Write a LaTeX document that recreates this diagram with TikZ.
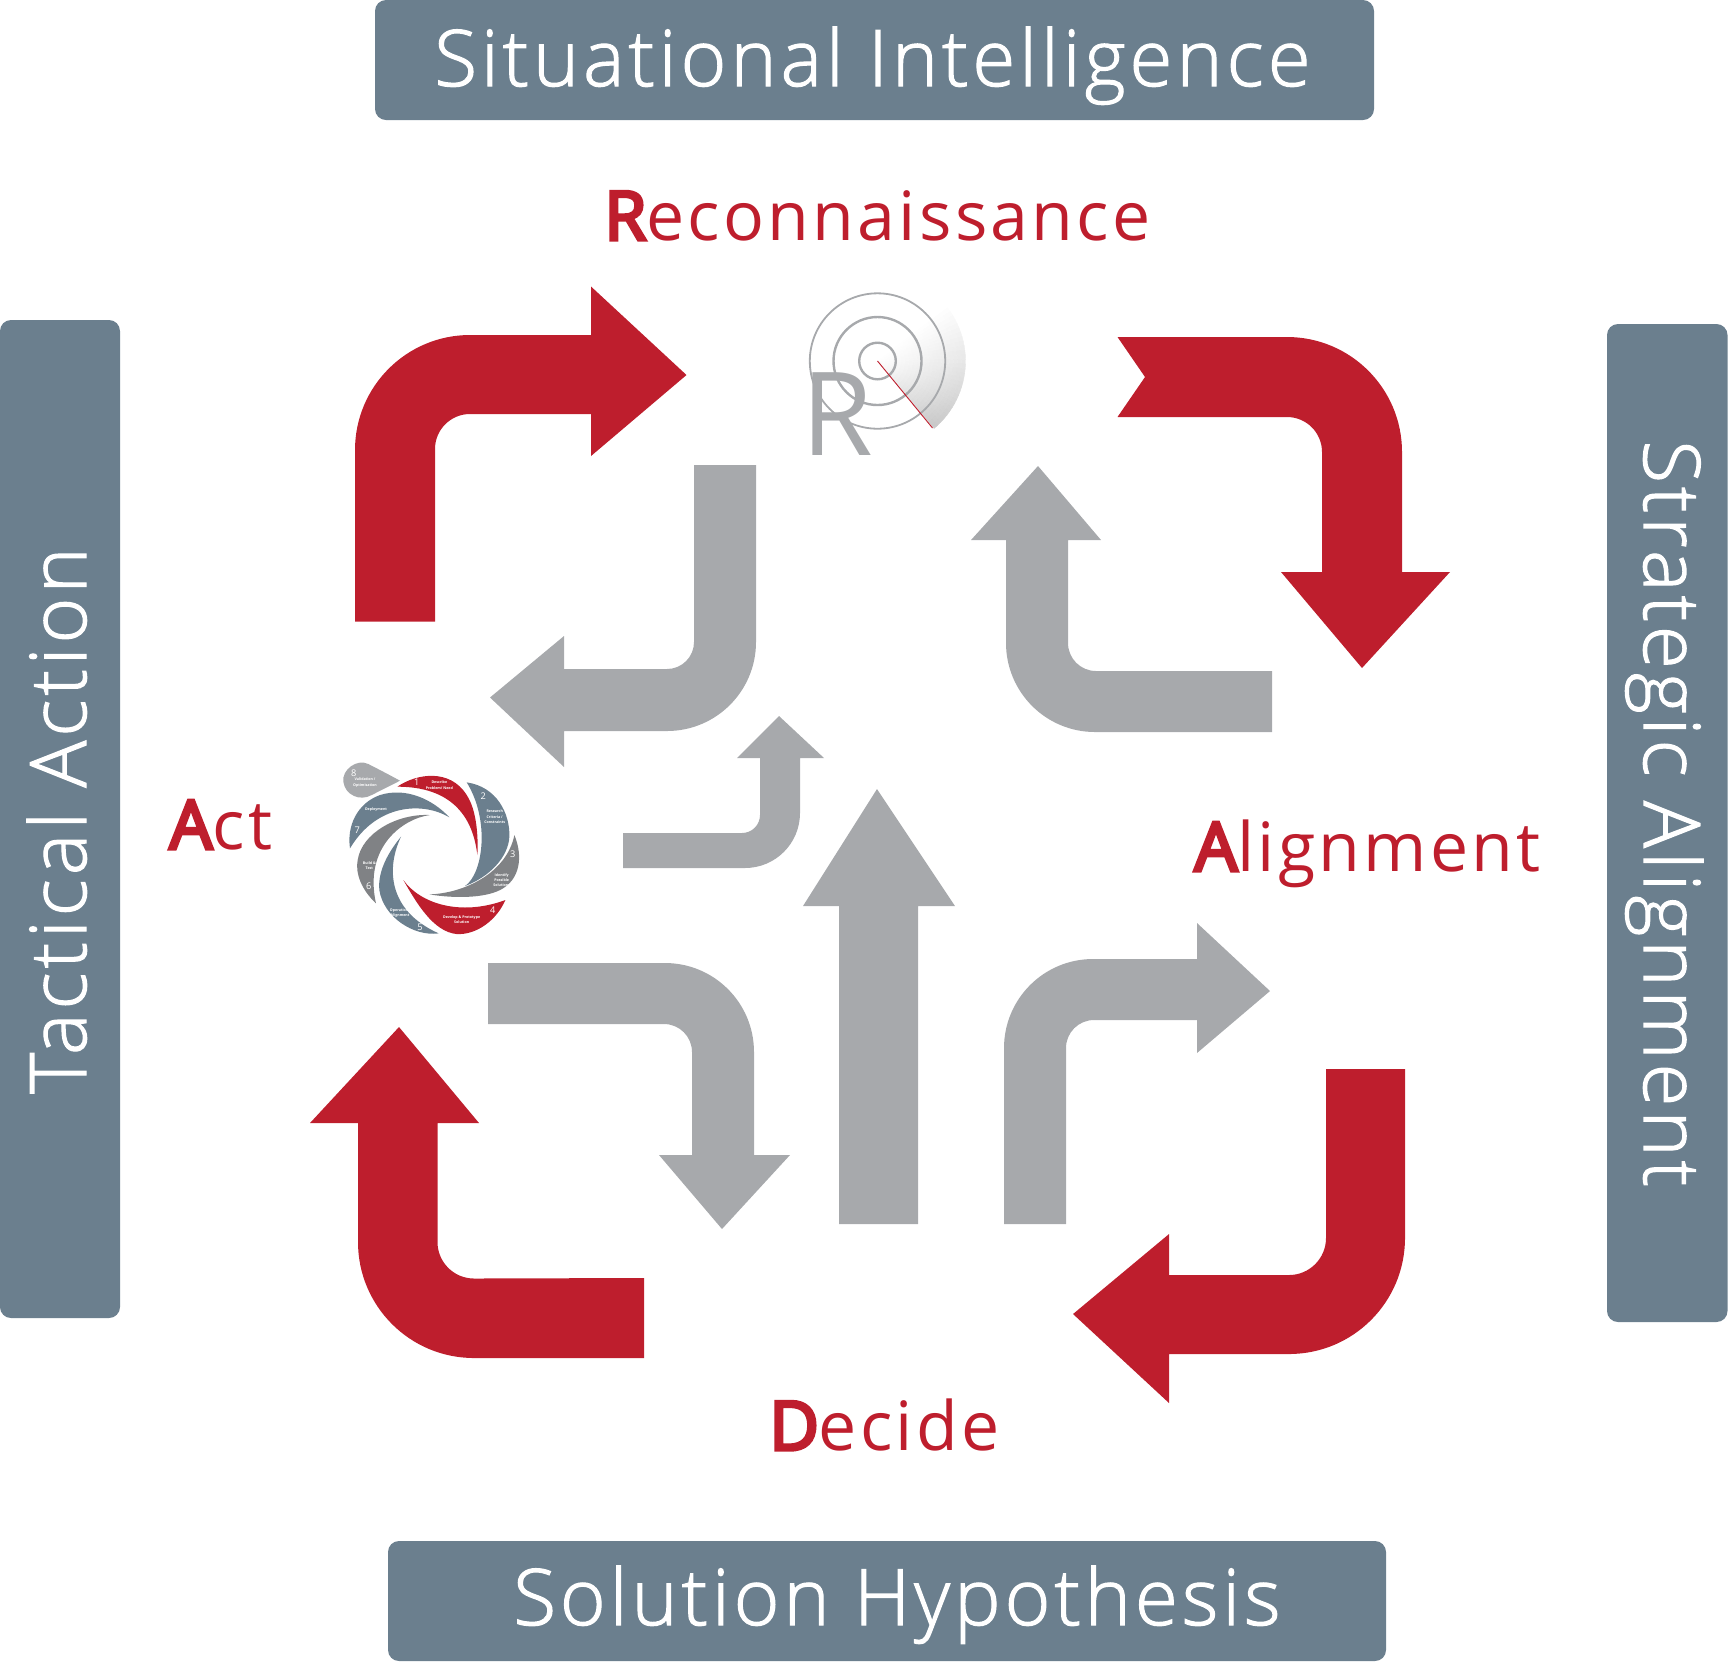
\documentclass[tikz,border=0pt]{standalone}
\usepackage{fontspec}
\setmainfont{Open Sans}
\newfontfamily\lightf[LetterSpace=5.3,FakeBold=1.5]{Open Sans Light}
\newfontfamily\redf[LetterSpace=4.8]{Open Sans}
\newfontfamily\redbf[LetterSpace=4.8,FakeBold=5]{Open Sans}
\newfontfamily\tinyf{Open Sans}
\definecolor{rd}{HTML}{BE1E2D}
\definecolor{gy}{HTML}{A7A9AC}
\definecolor{sl}{HTML}{6B7F8E}
\definecolor{dg}{HTML}{808285}
\tikzset{
  banner/.style={fill=sl,rounded corners=5.5pt},
  big/.style={text=white,inner sep=0pt,font=\lightf\fontsize{39}{39}\selectfont,anchor=base west},
  redlab/.style={text=rd,inner sep=0pt,font=\redf\fontsize{34}{34}\selectfont,anchor=base west},
  redarrow/.style={fill=rd},
  grayarrow/.style={fill=gy},
  tinylab/.style={text=white,inner sep=0pt,align=center,font=\tinyf\bfseries\fontsize{1.8}{2.7}\selectfont},
  numlab/.style={text=white,inner sep=0pt,font=\fontsize{4.6}{5}\selectfont},
}
\begin{document}
\begin{tikzpicture}[x=.5pt,y=-.5pt]
\useasboundingbox (0,0) rectangle (1728,1662);
% banners
\fill[banner] (375,0) rectangle (1374,120);
\fill[banner] (388,1541) rectangle (1386,1661);
\fill[banner] (0,320) rectangle (120,1318);
\fill[banner] (1607,324) rectangle (1727.5,1322);
\node[big] (top) at (434,86) {Situational Intelligence};
\node[big] (bot) at (513,1625) {Solution Hypothesis};
\node[big,rotate=90] (lft) at (86,1094) {Tactical Action};
\node[big,rotate=-90] (rgt) at (1644,440) {Strategic Alignment};
% red labels
\node[redlab] (recon) at (604,240) {{\redbf R}econnaissance};
\node[redlab] (act) at (169,849) {{\redbf A}ct};
\node[redlab] (align) at (1194,871) {{\redbf A}lignment};
\node[redlab] (decide) at (769,1450) {{\redbf D}ecide};
% red arrows
\fill[redarrow] (355,621.5) -- (355,450) arc(180:270:115) -- (591,335) -- (591,286.5) -- (686.5,375) -- (591,456) -- (591,414) -- (470,414) arc(270:180:35) -- (435,621.5) -- cycle;
\fill[redarrow] (1117.5,337) -- (1287,337) arc(270:360:115) -- (1402,572) -- (1450,572) -- (1362,668) -- (1281,572) -- (1322,572) -- (1322,452) arc(0:-90:35) -- (1117.5,417) -- (1145,377) -- cycle;
\fill[redarrow] (1405,1069) -- (1405,1238) arc(0:90:116) -- (1169,1354) -- (1169,1403) -- (1073,1314) -- (1169,1234) -- (1169,1275) -- (1289,1275) arc(90:0:37) -- (1326,1069) -- cycle;
\fill[redarrow] (644,1358) -- (474,1358) arc(90:180:116) -- (358,1123) -- (310,1123) -- (399,1027) -- (479,1123) -- (437.5,1123) -- (437.5,1242) arc(180:90:36.5) -- (644,1278) -- cycle;
% gray arrows
\fill[grayarrow] (756,465) -- (756,642) arc(0:90:89) -- (564,731) -- (564,767) -- (490,697.5) -- (564,636) -- (564,669) -- (667,669) arc(90:0:27) -- (694,465) -- cycle;
\fill[grayarrow] (1272,732) -- (1095,732) arc(90:180:89) -- (1006,540) -- (971,540) -- (1038,466) -- (1101,540) -- (1068,540) -- (1068,643) arc(180:90:28) -- (1272,671) -- cycle;
\fill[grayarrow] (488,963) -- (665,963) arc(270:360:89) -- (754,1155) -- (790,1155) -- (722,1229) -- (659,1155) -- (692,1155) -- (692,1052) arc(0:-90:28) -- (488,1024) -- cycle;
\fill[grayarrow] (1004,1224) -- (1004,1048) arc(180:270:89) -- (1197,959) -- (1197,923) -- (1270,991) -- (1197,1053) -- (1197,1020) -- (1094,1020) arc(270:180:28) -- (1066,1224) -- cycle;
\fill[grayarrow] (623,868) -- (745,868) arc(90:0:55) -- (800,758) -- (824,758) -- (779,716) -- (737,758) -- (760,758) -- (760,815) arc(0:90:18) -- (623,833) -- cycle;
\fill[grayarrow] (839,1224) -- (839,906) -- (803,906) -- (877,789) -- (955,906) -- (918,906) -- (918,1224) -- cycle;
% radar
\begin{scope}[shift={(877.5,361)}]
\foreach \r in {4,8,...,88}{
  \foreach \a in {-40,-37,...,48}{
    \pgfmathsetmacro\k{max(0,22*(\r/88)*((\a+40)/90))}
    \fill[black!\k!white,draw=black!\k!white,line width=.2pt] (\a:\r-4) arc(\a:\a+3:\r-4) -- (\a+3:\r) arc(\a+3:\a:\r) -- cycle;
  }
}
\draw[gy,line width=.9pt] (0,0) circle (67.7);
\draw[gy,line width=1.2pt] (0,0) circle (44);
\draw[gy,line width=1.2pt] (0,0) circle (18.3);
\node[text=gy,inner sep=0pt,anchor=base west,font=\fontsize{58}{58}\selectfont] (rlet) at (-76,94) {R};
\draw[rd,line width=.45pt] (0,0) -- (55,67);
\end{scope}
% swirl
\begin{scope}[shift={(320,740)},x=.1667pt,y=-.1667pt]
\fill[gy] (240,122) .. controls (200,100) and (170,85) .. (145,72) .. controls (110,55) and (65,90) .. (70,125) .. controls (75,165) and (120,185) .. (155,165) .. controls (185,150) and (215,135) .. (240,122) -- cycle;
\fill[rd] (232,140) .. controls (290,100) and (390,85) .. (440,165) .. controls (470,210) and (475,290) .. (472,345) .. controls (462,260) and (420,140) .. (232,140) -- cycle;
\fill[sl] (440,127) .. controls (530,140) and (570,220) .. (568,290) .. controls (565,350) and (510,410) .. (435,438) .. controls (490,400) and (510,240) .. (440,127) -- cycle;
\fill[dg] (583,285) .. controls (610,350) and (600,420) .. (540,450) .. controls (490,475) and (400,475) .. (328,463) .. controls (430,460) and (560,400) .. (583,285) -- cycle;
\fill[rd] (556,480) .. controls (530,540) and (470,585) .. (410,582) .. controls (340,575) and (290,490) .. (250,420) .. controls (300,490) and (420,530) .. (556,480) -- cycle;
\fill[sl] (356,580) .. controls (280,590) and (190,530) .. (178,450) .. controls (172,390) and (210,330) .. (243,290) .. controls (200,380) and (200,510) .. (356,580) -- cycle;
\fill[dg] (168,490) .. controls (125,450) and (105,400) .. (113,360) .. controls (125,280) and (230,220) .. (330,225) .. controls (250,235) and (130,320) .. (168,490) -- cycle;
\fill[sl] (90,325) .. controls (80,260) and (110,190) .. (180,165) .. controls (260,140) and (340,180) .. (388,232) .. controls (310,185) and (170,190) .. (90,325) -- cycle;
\node[numlab] (n1) at (290,128) {1};
\node[numlab] (n2) at (490,168) {2};
\node[numlab] (n3) at (578,343) {3};
\node[numlab] (n4) at (518,510) {4};
\node[numlab] (n5) at (300,563) {5};
\node[numlab] (n6) at (146,437) {6};
\node[numlab] (n7) at (112,272) {7};
\node[numlab] (n8) at (101,99) {8};
\node[tinylab] (t1) at (358,135) {Describe\\Problem/ Need};
\node[tinylab] (t2) at (524,231) {Research\\Criteria /\\Constraints};
\node[tinylab] (t3) at (545,420) {Identify\\Possible\\Solutions};
\node[tinylab] (t4) at (425,538) {Develop \& Prototype\\Solution};
\node[tinylab] (t5) at (240,519) {Operations\\Alignment};
\node[tinylab] (t6) at (148,377) {Build \&\\Test};
\node[tinylab] (t7) at (168,210) {Deployment};
\node[tinylab] (t8) at (135,128) {Validation /\\Optimisation};
\end{scope}
\end{tikzpicture}
\end{document}
